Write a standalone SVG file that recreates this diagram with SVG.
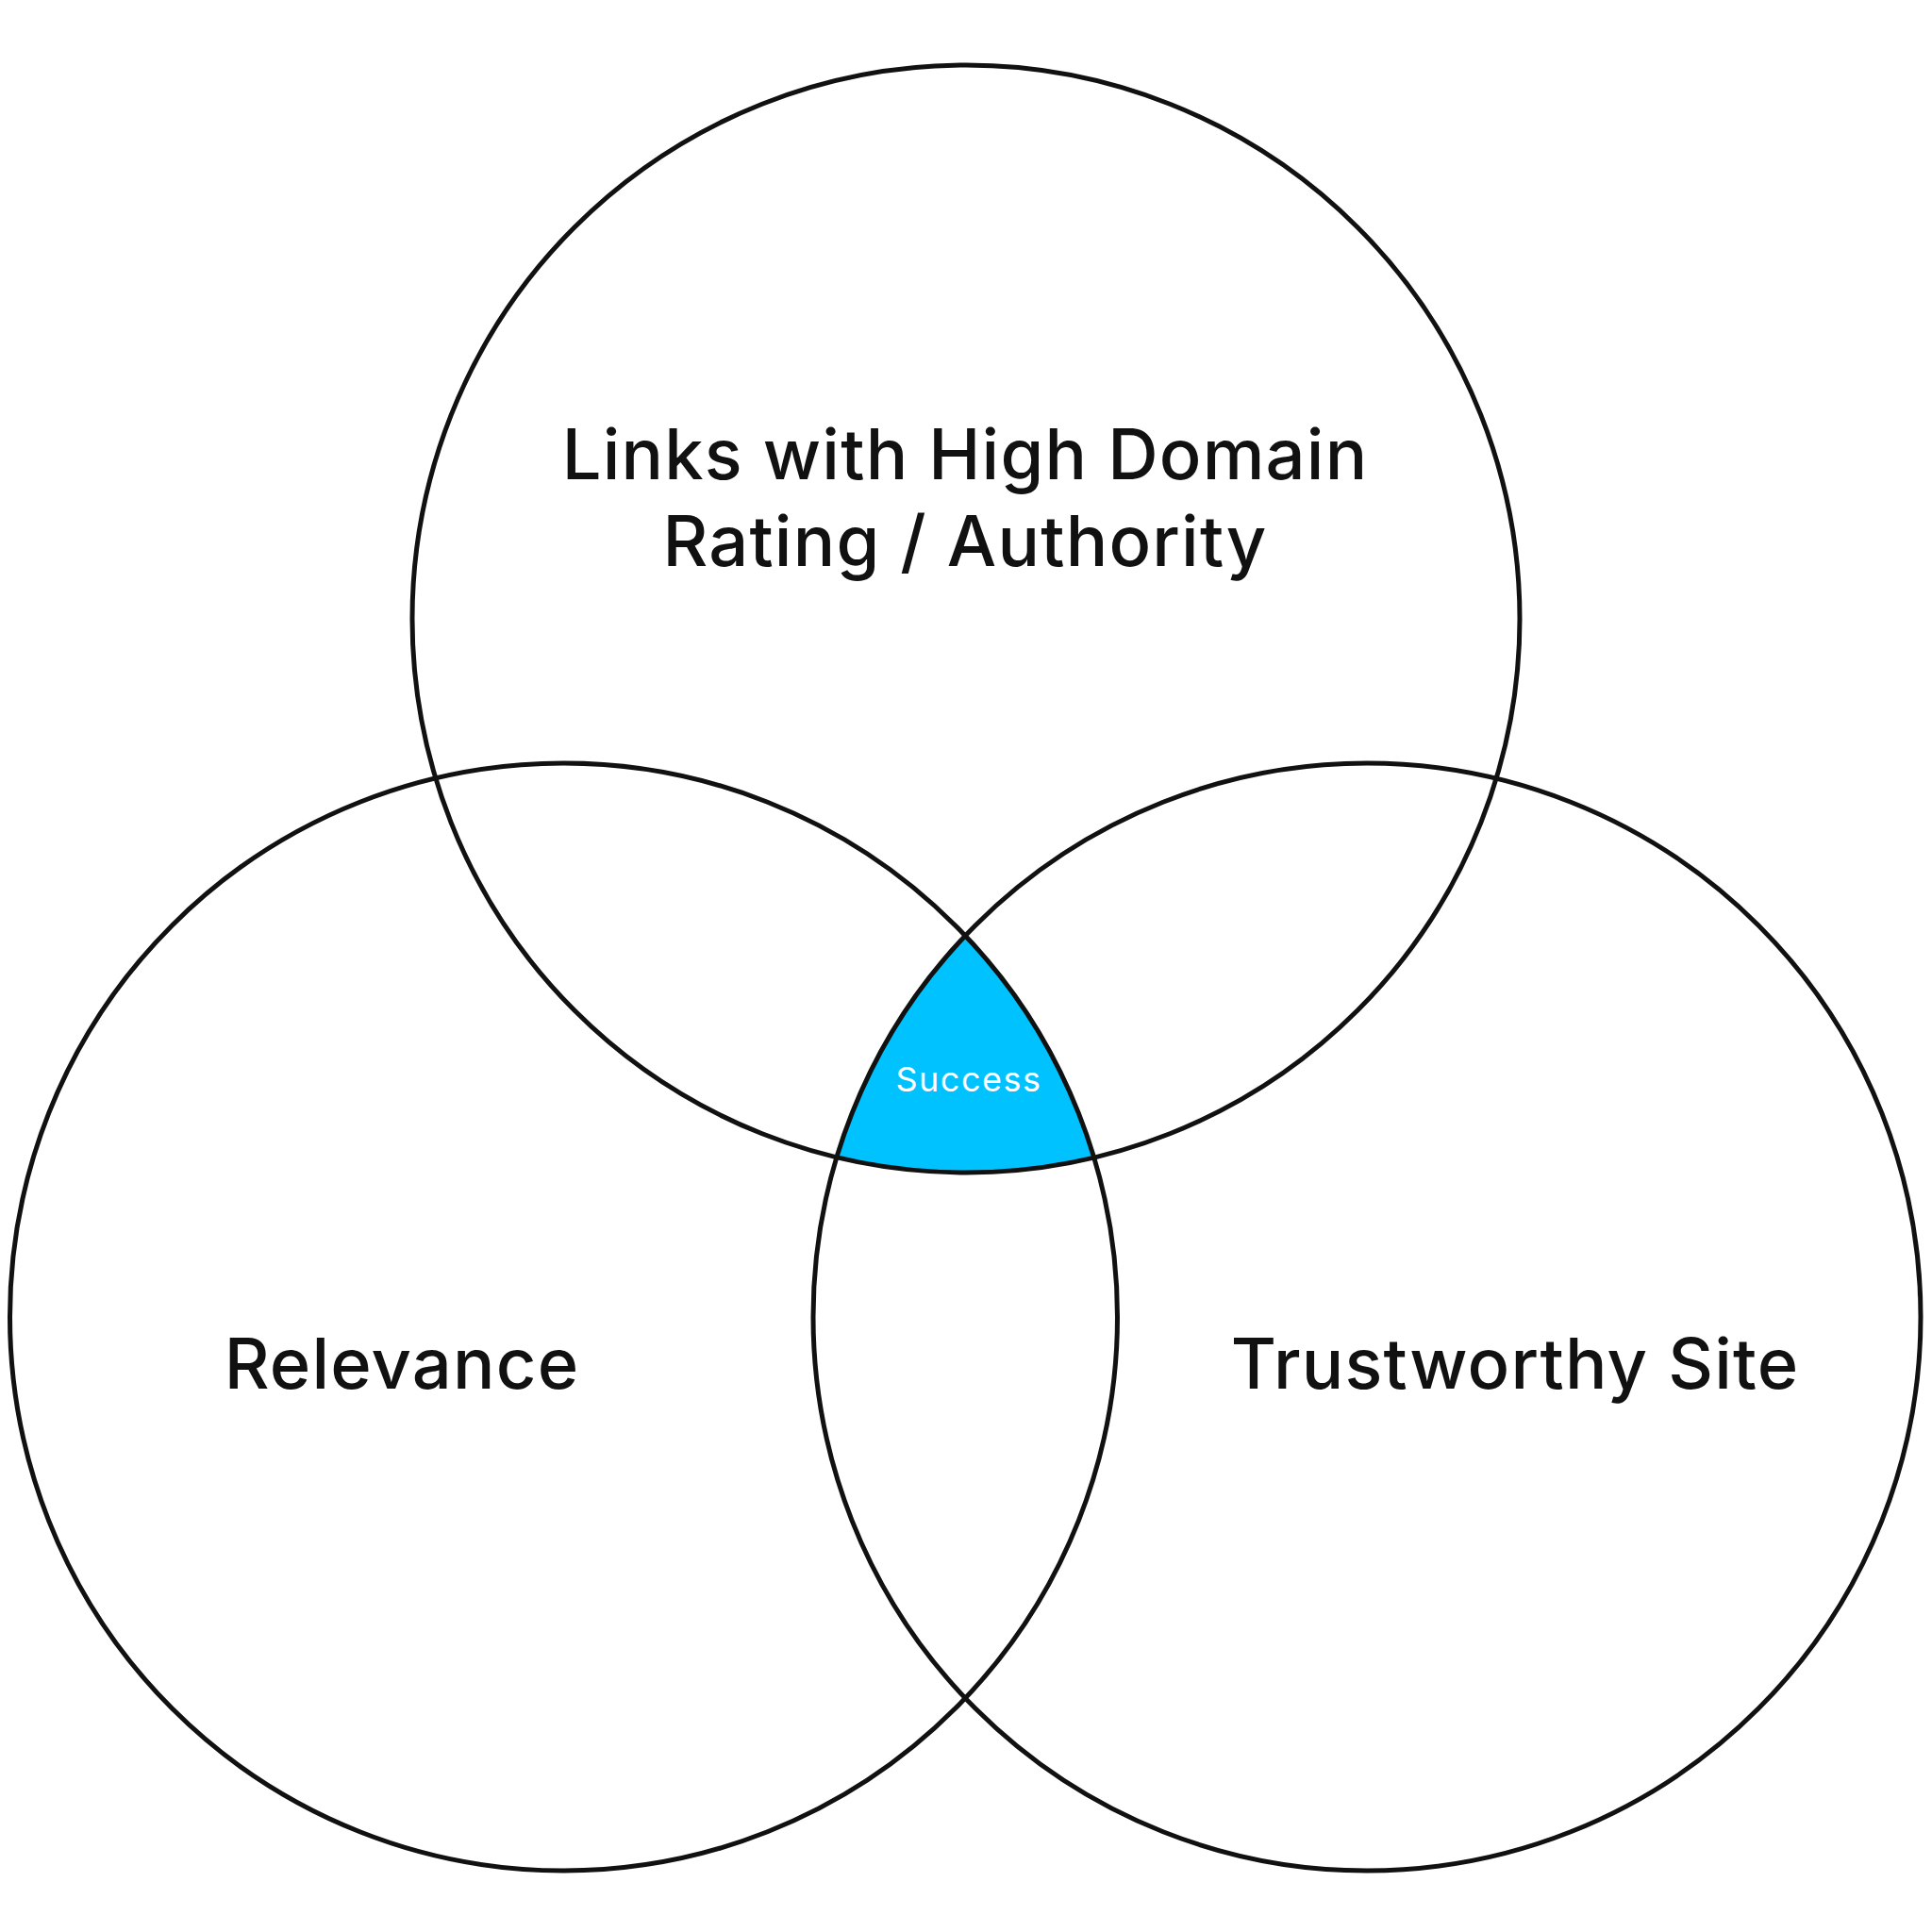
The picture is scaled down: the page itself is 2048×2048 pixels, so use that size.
<svg xmlns="http://www.w3.org/2000/svg" width="2048" height="2048" viewBox="0 0 2048 2048">
<style>
.c{fill:none;stroke:#111111;stroke-width:5}
.lbl{font-family:Inter,"Liberation Sans",sans-serif;font-weight:500;font-size:74px;fill:#111111;text-anchor:middle;letter-spacing:1.2px}
.s{font-family:Inter,"Liberation Sans",sans-serif;font-weight:400;font-size:36px;fill:#ffffff;text-anchor:middle;letter-spacing:1.5px}
</style>
<defs>
<clipPath id="cl"><circle cx="597.5" cy="1396" r="587"/></clipPath>
<clipPath id="cr"><circle cx="1449" cy="1396" r="587"/></clipPath>
</defs>
<rect width="2048" height="2048" fill="#ffffff"/>
<g id="success-region">
<g clip-path="url(#cl)"><circle cx="1024" cy="656" r="587" fill="#00C2FF" clip-path="url(#cr)"/></g>
<text class="s" x="1027" y="1157">Success</text>
</g>
<g id="links">
<circle class="c" cx="1024" cy="656" r="587"/>
<text class="lbl" x="1023" y="508">Links with High Domain</text>
<text class="lbl" x="1023" y="600">Rating / Authority</text>
</g>
<g id="relevance">
<circle class="c" cx="597.5" cy="1396" r="587"/>
<text class="lbl" x="426" y="1472">Relevance</text>
</g>
<g id="trustworthy">
<circle class="c" cx="1449" cy="1396" r="587"/>
<text class="lbl" x="1606" y="1472">Trustworthy Site</text>
</g>
<g id="connectors"/>
</svg>
